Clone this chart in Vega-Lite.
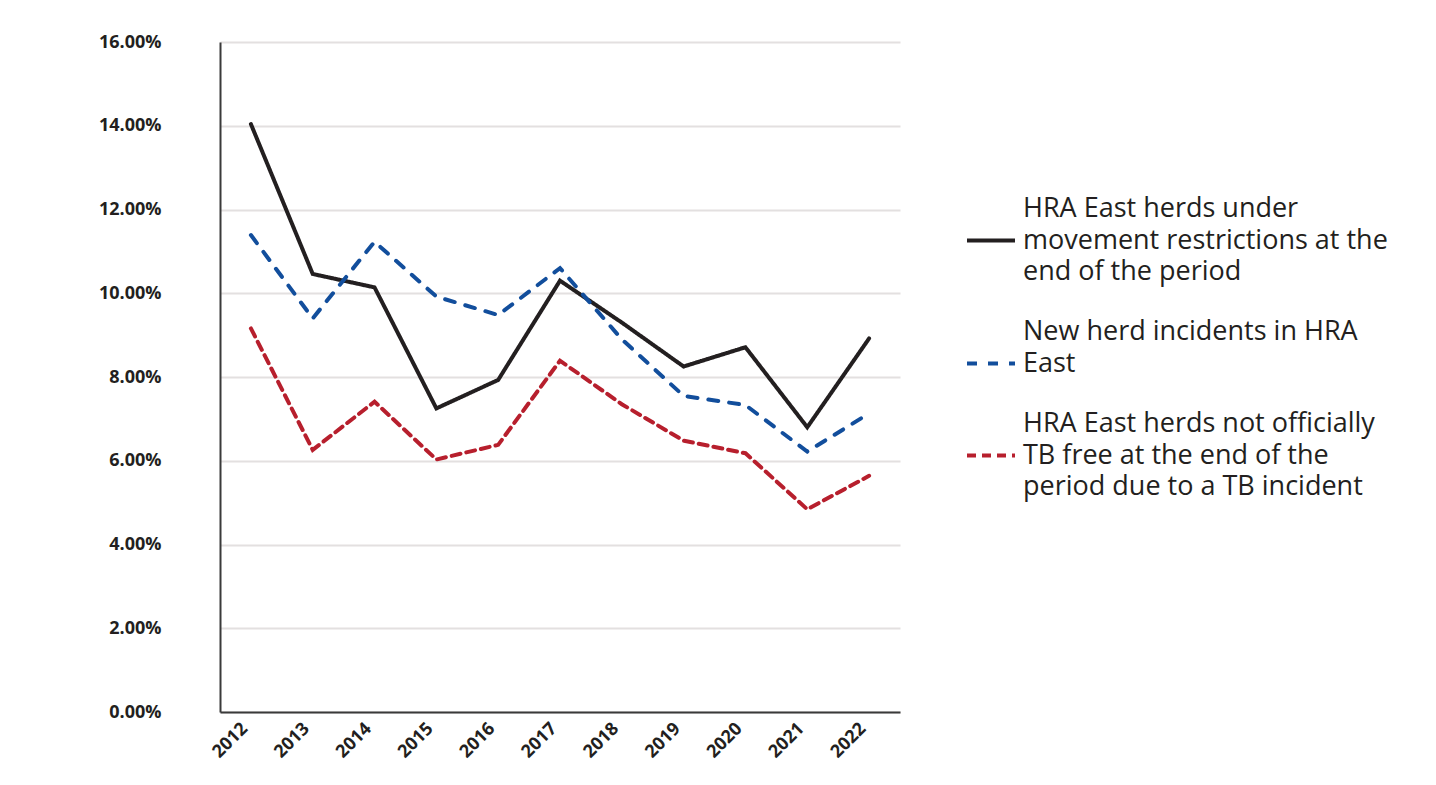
{
  "$schema": "https://vega.github.io/schema/vega-lite/v6.json",
  "autosize": {"type": "none"},
  "padding": {"left": 220, "top": 42, "right": 536, "bottom": 73},
  "width": 680,
  "height": 670,
  "background": "white",
  "config": {
    "view": {"stroke": null},
    "font": "Open Sans",
    "line": {"strokeCap": "round", "strokeJoin": "miter"},
    "style": {"guide-label": {"lineHeight": 31.5}}
  },
  "data": {
    "values": [
      {"year": "2012", "series": "A", "value": 0.1404},
      {"year": "2013", "series": "A", "value": 0.1046},
      {"year": "2014", "series": "A", "value": 0.1014},
      {"year": "2015", "series": "A", "value": 0.0725},
      {"year": "2016", "series": "A", "value": 0.0793},
      {"year": "2017", "series": "A", "value": 0.1030},
      {"year": "2018", "series": "A", "value": 0.0930},
      {"year": "2019", "series": "A", "value": 0.0825},
      {"year": "2020", "series": "A", "value": 0.0871},
      {"year": "2021", "series": "A", "value": 0.0680},
      {"year": "2022", "series": "A", "value": 0.0892},
      {"year": "2012", "series": "B", "value": 0.1139},
      {"year": "2013", "series": "B", "value": 0.0940},
      {"year": "2014", "series": "B", "value": 0.1123},
      {"year": "2015", "series": "B", "value": 0.0992},
      {"year": "2016", "series": "B", "value": 0.0948},
      {"year": "2017", "series": "B", "value": 0.1060},
      {"year": "2018", "series": "B", "value": 0.0890},
      {"year": "2019", "series": "B", "value": 0.0755},
      {"year": "2020", "series": "B", "value": 0.0733},
      {"year": "2021", "series": "B", "value": 0.0622},
      {"year": "2022", "series": "B", "value": 0.0713},
      {"year": "2012", "series": "C", "value": 0.0916},
      {"year": "2013", "series": "C", "value": 0.0626},
      {"year": "2014", "series": "C", "value": 0.0741},
      {"year": "2015", "series": "C", "value": 0.0603},
      {"year": "2016", "series": "C", "value": 0.0638},
      {"year": "2017", "series": "C", "value": 0.0839},
      {"year": "2018", "series": "C", "value": 0.0735},
      {"year": "2019", "series": "C", "value": 0.0648},
      {"year": "2020", "series": "C", "value": 0.0618},
      {"year": "2021", "series": "C", "value": 0.0484},
      {"year": "2022", "series": "C", "value": 0.0564}
    ]
  },
  "mark": {"type": "line", "strokeWidth": 4},
  "encoding": {
    "x": {
      "field": "year", "type": "ordinal",
      "scale": {"paddingInner": 0, "paddingOuter": 0.5},
      "axis": {
        "title": null, "labelAngle": -45, "labelAlign": "right", "labelBaseline": "bottom",
        "labelFont": "Open Sans", "labelFontWeight": "bold", "labelFontSize": 18, "labelColor": "#231f20",
        "labelPadding": 20,
        "ticks": false, "grid": false, "domainColor": "#3a3a3a", "domainWidth": 2
      }
    },
    "y": {
      "field": "value", "type": "quantitative",
      "scale": {"domain": [0, 0.16]},
      "axis": {
        "title": null, "values": [0, 0.02, 0.04, 0.06, 0.08, 0.1, 0.12, 0.14, 0.16],
        "format": ".2%", "labelFont": "Open Sans", "labelFontWeight": "bold", "labelFontSize": 18,
        "labelColor": "#231f20", "labelPadding": 59, "labelDy": 4, "ticks": false,
        "domainColor": "#3a3a3a", "domainWidth": 2,
        "gridColor": "#e3e0e0", "gridWidth": 2
      }
    },
    "color": {
      "field": "series", "type": "nominal",
      "scale": {"domain": ["A", "B", "C"], "range": ["#231f20", "#124e9c", "#b71f2d"]},
      "legend": {
        "title": null, "orient": "none", "legendX": 745, "legendY": 141,
        "symbolType": "M-1,1.3125H1", "symbolSize": 2304, "symbolStrokeWidth": 4,
        "labelFont": "Open Sans", "labelFontSize": 27, "labelColor": "#231f20", "labelLimit": 600,
        "labelOffset": 6, "labelBaseline": "middle", "rowPadding": 21,
        "labelExpr": "datum.value == 'A' ? ['HRA East herds under', 'movement restrictions at the', 'end of the period'] : datum.value == 'B' ? ['New herd incidents in HRA', 'East'] : ['HRA East herds not officially', 'TB free at the end of the', 'period due to a TB incident']"
      }
    },
    "strokeDash": {
      "field": "series", "type": "nominal",
      "scale": {"domain": ["A", "B", "C"], "range": [[1, 0], [10, 11], [9, 6]]},
      "legend": null
    }
  }
}
